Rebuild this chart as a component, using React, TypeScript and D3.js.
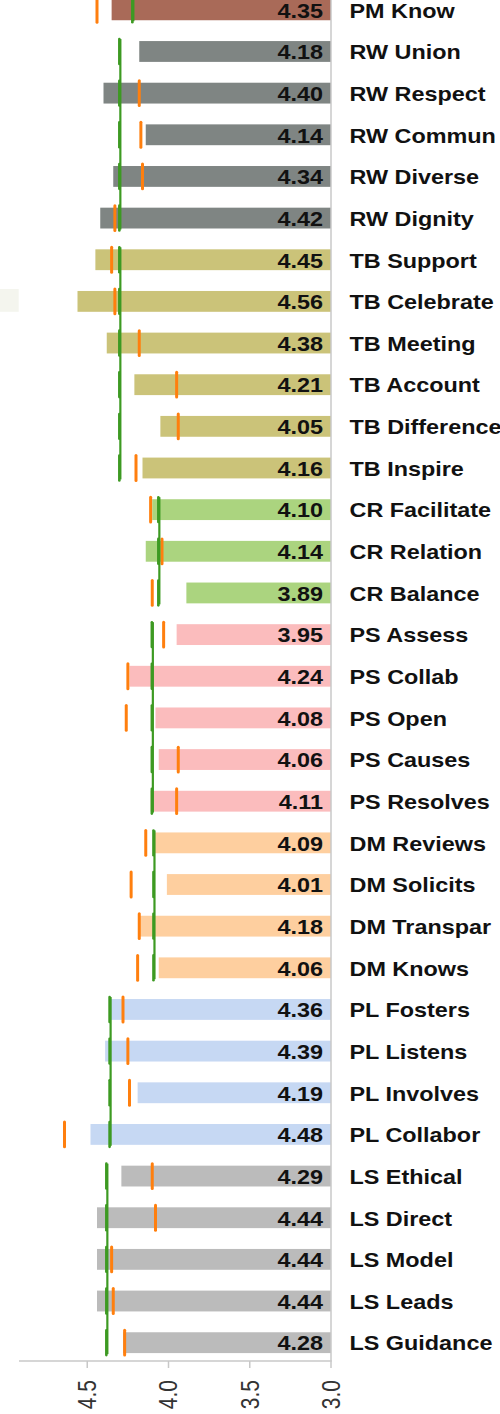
import React from "react";
import * as d3 from "d3";

const categories = [
  "PM Know", "RW Union", "RW Respect", "RW Commun", "RW Diverse", "RW Dignity",
  "TB Support", "TB Celebrate", "TB Meeting", "TB Account", "TB Difference", "TB Inspire",
  "CR Facilitate", "CR Relation", "CR Balance",
  "PS Assess", "PS Collab", "PS Open", "PS Causes", "PS Resolves",
  "DM Reviews", "DM Solicits", "DM Transpar", "DM Knows",
  "PL Fosters", "PL Listens", "PL Involves", "PL Collabor",
  "LS Ethical", "LS Direct", "LS Model", "LS Leads", "LS Guidance",
];

const scores = [
  4.35, 4.18, 4.40, 4.14, 4.34, 4.42,
  4.45, 4.56, 4.38, 4.21, 4.05, 4.16,
  4.10, 4.14, 3.89,
  3.95, 4.24, 4.08, 4.06, 4.11,
  4.09, 4.01, 4.18, 4.06,
  4.36, 4.39, 4.19, 4.48,
  4.29, 4.44, 4.44, 4.44, 4.28,
];

const benchmark: (number | null)[] = [
  4.44, null, 4.18, 4.17, 4.16, 4.33,
  4.35, 4.33, 4.18, 3.95, 3.94, 4.20,
  4.11, 4.04, 4.10,
  4.03, 4.25, 4.26, 3.94, 3.95,
  4.14, 4.23, 4.18, 4.19,
  4.28, 4.25, 4.24, 4.64,
  4.10, 4.08, 4.35, 4.34, 4.27,
];

const groups = ["PM", "RW", "TB", "CR", "PS", "DM", "PL", "LS"];
const groupAverage = [4.22, 4.30, 4.30, 4.06, 4.10, 4.09, 4.36, 4.38];
const groupColors = ["#a96a58", "#7f8583", "#cbc379", "#abd47f", "#fbbcbd", "#fecf9f", "#c6d8f3", "#bbbbbb"];

const tickValues = [4.5, 4.0, 3.5, 3.0];

const FONT = "'Liberation Sans', Arial, Helvetica, sans-serif";

export default function App() {
  const width = 500;
  const height = 1414;
  const axisY = 1361;

  const x = d3.scaleLinear().domain([3.0, 4.92]).range([331, 19]);
  const y = d3
    .scaleBand<string>()
    .domain(categories)
    .range([-11, 1363.5])
    .paddingInner(0.5)
    .paddingOuter(0.25);
  const bw = y.bandwidth();
  const groupOf = (c: string) => groups.indexOf(c.split(" ")[0]);
  const fmt = d3.format(".2f");
  const tfmt = d3.format(".1f");

  const groupSpans = groups.map((g, gi) => {
    const cats = categories.filter((c) => groupOf(c) === gi);
    const top = y(cats[0])!;
    const bottom = y(cats[cats.length - 1])! + bw;
    return { g, gi, cats, top, bottom };
  });

  return (
    <div style={{ position: "absolute", left: 0, top: 0 }}>
      <svg width={width} height={height} style={{ display: "block" }}>
        <rect x={0} y={y("TB Celebrate")! - 2} width={18.7} height={bw + 2} fill="#f4f5ee" />
        {categories.map((c, i) => (
          <rect
            key={c}
            x={x(scores[i])}
            y={y(c)!}
            width={x(3.0) - x(scores[i])}
            height={bw}
            fill={groupColors[groupOf(c)]}
          />
        ))}
        <line x1={331} x2={331} y1={0} y2={axisY} stroke="#c8c8c8" strokeWidth={1.5} />
        {categories.map((c, i) => (
          <text
            key={"v" + c}
            transform={`translate(323,${y(c)! + bw / 2 + 7.8}) scale(1.2,1)`}
            textAnchor="end"
            fontFamily={FONT}
            fontWeight="bold"
            fontSize={19.5}
            fill="#111"
          >
            {fmt(scores[i])}
          </text>
        ))}
        {categories.map((c) => (
          <text
            key={"c" + c}
            transform={`translate(349.5,${y(c)! + bw / 2 + 7.8}) scale(1.2,1)`}
            fontFamily={FONT}
            fontWeight="bold"
            fontSize={19.5}
            fill="#111"
          >
            {c}
          </text>
        ))}
        {categories.map((c, i) =>
          benchmark[i] == null ? null : (
            <line
              key={"b" + c}
              x1={x(benchmark[i]!)}
              x2={x(benchmark[i]!)}
              y1={y(c)! - 2}
              y2={y(c)! + bw + 2}
              stroke="#ff7f0e"
              strokeWidth={3}
              strokeLinecap="round"
            />
          )
        )}
        {groupSpans.map((s) => (
          <g key={"g" + s.g}>
            <line
              x1={x(groupAverage[s.gi]) + 0.6}
              x2={x(groupAverage[s.gi]) + 0.6}
              y1={s.top - 2}
              y2={s.bottom + 1}
              stroke="#3d9a22"
              strokeWidth={2.2}
            />
            {s.cats.map((c) => (
              <line
                key={"gs" + c}
                x1={x(groupAverage[s.gi]) - 0.4}
                x2={x(groupAverage[s.gi]) - 0.4}
                y1={y(c)! - 2}
                y2={y(c)! + bw + 2}
                stroke="#3d9a22"
                strokeWidth={2.6}
                strokeLinecap="round"
              />
            ))}
          </g>
        ))}
        <line x1={19} x2={331.75} y1={axisY} y2={axisY} stroke="#c8c8c8" strokeWidth={1.5} />
        {tickValues.map((t) => (
          <g key={"t" + t}>
            <line x1={x(t)} x2={x(t)} y1={axisY} y2={axisY + 7} stroke="#c8c8c8" strokeWidth={1.5} />
            <text
              transform={`translate(${x(t)},1380) scale(1.2,1) rotate(-90)`}
              textAnchor="end"
              dy="0.35em"
              fontFamily={FONT}
              fontSize={21}
              fill="#333"
            >
              {tfmt(t)}
            </text>
          </g>
        ))}
      </svg>
    </div>
  );
}
